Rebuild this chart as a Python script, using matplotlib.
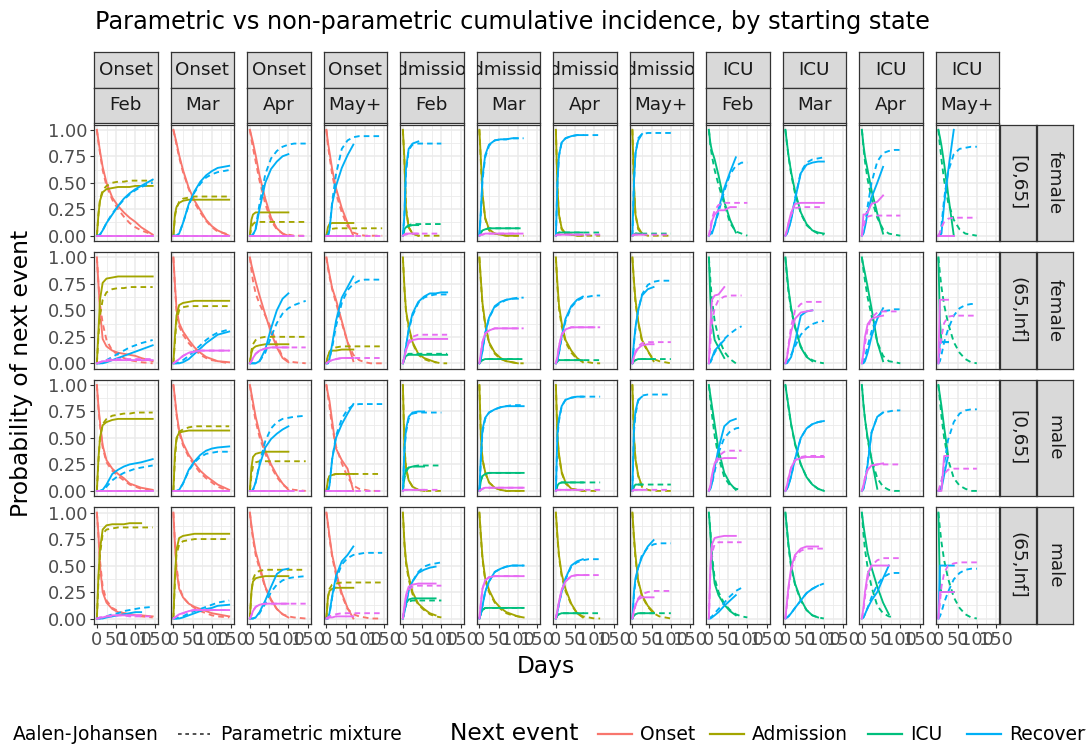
import numpy as np
import matplotlib
matplotlib.use("Agg")
import matplotlib.pyplot as plt
from matplotlib.lines import Line2D

N = None
days = [0, 4, 8, 15, 25, 40, 55, 70, 85, 100, 115, 145]
months = ["Feb", "Mar", "Apr", "May+"]
start_states = ["Onset", "Admission", "ICU"]
age_groups = ["[0,65]", "(65,Inf]", "[0,65]", "(65,Inf]"]
sexes = ["female", "female", "male", "male"]
events = ["Onset", "Admission", "ICU", "Recovery", "Death"]
event_colors = ["#F8766D", "#A3A500", "#00BF7D", "#00B0F6", "#E76BF3"]
legend_events = ["Onset", "Admission", "ICU", "Recovery"]
x_ticks = [0, 50, 100, 150]
y_ticks = [0, 0.25, 0.5, 0.75, 1.0]
y_ticklabels = ["0.00", "0.25", "0.50", "0.75", "1.00"]

# event -> (Aalen-Johansen, parametric mixture), read at `days`
Z = [0, 0, 0, 0, 0, 0, 0, 0, 0, 0, 0, 0]

onset_f_young = {
    "Feb": {"Onset": ([1.0, 0.9, 0.8, 0.65, 0.5, 0.36, 0.28, 0.22, 0.17, 0.13, 0.08, 0.01],
                      [1.0, 0.88, 0.78, 0.62, 0.47, 0.34, 0.25, 0.18, 0.12, 0.08, 0.05, 0.01]),
            "Admission": ([0, 0.2, 0.33, 0.41, 0.44, 0.45, 0.46, 0.46, 0.46, 0.47, 0.47, 0.47],
                          [0, 0.2, 0.34, 0.43, 0.47, 0.5, 0.51, 0.51, 0.52, 0.52, 0.52, 0.52]),
            "Recovery": ([0, 0, 0.01, 0.05, 0.12, 0.2, 0.28, 0.35, 0.4, 0.44, 0.47, 0.53],
                         [0, 0, 0.01, 0.05, 0.12, 0.21, 0.28, 0.34, 0.39, 0.43, 0.46, 0.5]),
            "Death": (Z, Z)},
    "Mar": {"Onset": ([1.0, 0.94, 0.88, 0.76, 0.62, 0.45, 0.33, 0.24, 0.15, 0.09, 0.05, 0.0],
                      [1.0, 0.93, 0.86, 0.74, 0.6, 0.44, 0.31, 0.22, 0.14, 0.08, 0.04, 0.01]),
            "Admission": ([0, 0.2, 0.27, 0.31, 0.33, 0.34, 0.34, 0.34, 0.34, 0.34, 0.34, 0.34],
                          [0, 0.18, 0.26, 0.32, 0.35, 0.36, 0.37, 0.37, 0.37, 0.37, 0.37, 0.37]),
            "Recovery": ([0, 0, 0, 0.02, 0.12, 0.3, 0.42, 0.51, 0.57, 0.61, 0.64, 0.66],
                         [0, 0, 0, 0.02, 0.12, 0.29, 0.41, 0.49, 0.55, 0.58, 0.6, 0.62]),
            "Death": (Z, Z)},
    "Apr": {"Onset": ([1.0, 0.94, 0.88, 0.76, 0.57, 0.35, 0.17, 0.07, 0.02, 0.0, N, N],
                      [1.0, 0.91, 0.83, 0.7, 0.52, 0.3, 0.14, 0.06, 0.02, 0.01, 0.0, 0.0]),
            "Admission": ([0, 0.15, 0.2, 0.22, 0.22, 0.22, 0.22, 0.22, 0.22, 0.22, N, N],
                          [0, 0.08, 0.11, 0.13, 0.13, 0.13, 0.13, 0.13, 0.13, 0.13, 0.13, 0.13]),
            "Recovery": ([0, 0, 0.01, 0.06, 0.25, 0.5, 0.63, 0.7, 0.75, 0.77, N, N],
                         [0, 0, 0.01, 0.07, 0.3, 0.58, 0.73, 0.8, 0.84, 0.86, 0.87, 0.87]),
            "Death": ([0, 0, 0, 0, 0, 0, 0, 0, 0, 0, N, N], Z)},
    "May+": {"Onset": ([1.0, 0.88, 0.79, 0.63, 0.45, 0.26, 0.12, 0.0, N, N, N, N],
                       [1.0, 0.85, 0.75, 0.58, 0.4, 0.22, 0.09, 0.03, 0.01, 0.0, 0.0, 0.0]),
             "Admission": ([0, 0.08, 0.11, 0.12, 0.12, 0.12, 0.12, 0.12, N, N, N, N],
                           [0, 0.04, 0.06, 0.065, 0.07, 0.07, 0.07, 0.07, 0.07, 0.07, 0.07, 0.07]),
             "Recovery": ([0, 0, 0.05, 0.3, 0.47, 0.64, 0.76, 0.86, N, N, N, N],
                          [0, 0, 0.05, 0.32, 0.58, 0.82, 0.9, 0.93, 0.94, 0.94, 0.94, 0.94]),
             "Death": ([0, 0, 0, 0, 0, 0, 0, 0, N, N, N, N], Z)},
}

onset_f_old = {
    "Feb": {"Onset": ([1.0, 0.75, 0.5, 0.23, 0.16, 0.12, 0.1, 0.09, 0.08, 0.07, 0.05, 0.02],
                      [1.0, 0.76, 0.56, 0.38, 0.22, 0.12, 0.08, 0.05, 0.03, 0.02, 0.01, 0.0]),
            "Admission": ([0, 0.3, 0.6, 0.76, 0.8, 0.81, 0.82, 0.82, 0.82, 0.82, 0.82, 0.82],
                          [0, 0.25, 0.45, 0.6, 0.67, 0.7, 0.71, 0.71, 0.72, 0.72, 0.72, 0.72]),
            "Recovery": ([0, 0, 0, 0, 0.01, 0.03, 0.05, 0.07, 0.09, 0.11, 0.13, 0.17],
                         [0, 0, 0, 0.01, 0.03, 0.06, 0.09, 0.12, 0.15, 0.17, 0.19, 0.22]),
            "Death": ([0, 0.005, 0.01, 0.02, 0.02, 0.03, 0.03, 0.03, 0.03, 0.03, 0.03, 0.03],
                      [0, 0.005, 0.01, 0.02, 0.03, 0.04, 0.04, 0.04, 0.04, 0.04, 0.04, 0.04])},
    "Mar": {"Onset": ([1.0, 0.75, 0.52, 0.38, 0.3, 0.22, 0.15, 0.1, 0.06, 0.04, 0.02, 0.01],
                      [1.0, 0.72, 0.5, 0.35, 0.27, 0.19, 0.13, 0.08, 0.05, 0.03, 0.02, 0.0]),
            "Admission": ([0, 0.25, 0.45, 0.55, 0.57, 0.58, 0.59, 0.59, 0.59, 0.59, 0.59, 0.59],
                          [0, 0.2, 0.4, 0.5, 0.53, 0.54, 0.54, 0.54, 0.54, 0.54, 0.54, 0.54]),
            "Recovery": ([0, 0, 0, 0, 0.01, 0.04, 0.09, 0.14, 0.19, 0.23, 0.27, 0.3],
                         [0, 0, 0, 0.01, 0.03, 0.07, 0.12, 0.17, 0.22, 0.26, 0.29, 0.32]),
            "Death": ([0, 0.01, 0.02, 0.04, 0.07, 0.1, 0.11, 0.12, 0.12, 0.12, 0.12, 0.12],
                      [0, 0.01, 0.02, 0.04, 0.07, 0.1, 0.11, 0.12, 0.12, 0.12, 0.12, 0.12])},
    "Apr": {"Onset": ([1.0, 0.93, 0.87, 0.77, 0.64, 0.46, 0.29, 0.15, 0.05, 0.01, N, N],
                      [1.0, 0.88, 0.78, 0.66, 0.56, 0.45, 0.33, 0.18, 0.06, 0.02, 0.01, 0.0]),
            "Admission": ([0, 0.1, 0.14, 0.16, 0.17, 0.18, 0.18, 0.18, 0.18, 0.18, N, N],
                          [0, 0.12, 0.18, 0.22, 0.24, 0.25, 0.25, 0.25, 0.25, 0.25, 0.25, 0.25]),
            "Recovery": ([0, 0, 0, 0, 0.02, 0.13, 0.33, 0.5, 0.61, 0.66, N, N],
                         [0, 0, 0, 0, 0.02, 0.1, 0.25, 0.38, 0.47, 0.52, 0.55, 0.59]),
            "Death": ([0, 0.02, 0.05, 0.09, 0.12, 0.14, 0.15, 0.15, 0.15, 0.15, N, N],
                      [0, 0.02, 0.05, 0.09, 0.12, 0.14, 0.15, 0.15, 0.15, 0.15, 0.15, 0.15])},
    "May+": {"Onset": ([1.0, 0.92, 0.84, 0.71, 0.6, 0.4, 0.2, 0.02, N, N, N, N],
                       [1.0, 0.9, 0.82, 0.7, 0.57, 0.38, 0.2, 0.08, 0.03, 0.01, 0.0, 0.0]),
             "Admission": ([0, 0.07, 0.1, 0.12, 0.12, 0.13, 0.13, 0.13, N, N, N, N],
                           [0, 0.07, 0.11, 0.14, 0.15, 0.16, 0.16, 0.16, 0.16, 0.16, 0.16, 0.16]),
             "Recovery": ([0, 0, 0.04, 0.18, 0.4, 0.62, 0.72, 0.82, N, N, N, N],
                          [0, 0, 0.04, 0.15, 0.35, 0.57, 0.69, 0.75, 0.78, 0.79, 0.79, 0.79]),
             "Death": ([0, 0.01, 0.02, 0.03, 0.04, 0.05, 0.05, 0.05, N, N, N, N],
                       [0, 0.01, 0.02, 0.03, 0.04, 0.05, 0.05, 0.05, 0.05, 0.05, 0.05, 0.05])},
}

onset_m_young = {
    "Feb": {"Onset": ([1.0, 0.8, 0.65, 0.43, 0.29, 0.21, 0.16, 0.12, 0.07, 0.05, 0.03, 0.01],
                      [1.0, 0.78, 0.62, 0.41, 0.27, 0.19, 0.14, 0.1, 0.06, 0.04, 0.02, 0.0]),
            "Admission": ([0, 0.3, 0.5, 0.62, 0.65, 0.67, 0.68, 0.68, 0.68, 0.68, 0.68, 0.68],
                          [0, 0.28, 0.5, 0.63, 0.68, 0.71, 0.72, 0.73, 0.73, 0.74, 0.74, 0.74]),
            "Recovery": ([0, 0, 0, 0.01, 0.06, 0.16, 0.2, 0.23, 0.25, 0.26, 0.27, 0.3],
                         [0, 0, 0, 0.01, 0.04, 0.1, 0.14, 0.17, 0.19, 0.21, 0.22, 0.24]),
            "Death": (Z, Z)},
    "Mar": {"Onset": ([1.0, 0.88, 0.74, 0.57, 0.45, 0.34, 0.26, 0.19, 0.14, 0.1, 0.06, 0.01],
                      [1.0, 0.86, 0.72, 0.55, 0.43, 0.32, 0.24, 0.17, 0.12, 0.08, 0.04, 0.0]),
            "Admission": ([0, 0.35, 0.5, 0.55, 0.56, 0.57, 0.57, 0.57, 0.57, 0.57, 0.57, 0.57],
                          [0, 0.3, 0.48, 0.56, 0.58, 0.6, 0.61, 0.61, 0.61, 0.61, 0.61, 0.61]),
            "Recovery": ([0, 0, 0, 0.01, 0.07, 0.2, 0.28, 0.34, 0.38, 0.4, 0.41, 0.42],
                         [0, 0, 0, 0.01, 0.07, 0.19, 0.27, 0.32, 0.35, 0.36, 0.37, 0.37]),
            "Death": (Z, Z)},
    "Apr": {"Onset": ([1.0, 0.92, 0.84, 0.7, 0.55, 0.38, 0.25, 0.15, 0.07, 0.01, N, N],
                      [1.0, 0.9, 0.8, 0.66, 0.51, 0.35, 0.23, 0.13, 0.06, 0.02, 0.01, 0.0]),
            "Admission": ([0, 0.22, 0.32, 0.35, 0.36, 0.37, 0.37, 0.37, 0.37, 0.37, N, N],
                          [0, 0.15, 0.23, 0.27, 0.28, 0.28, 0.28, 0.28, 0.28, 0.28, 0.28, 0.28]),
            "Recovery": ([0, 0, 0.01, 0.08, 0.24, 0.41, 0.49, 0.54, 0.58, 0.61, N, N],
                         [0, 0, 0.01, 0.08, 0.26, 0.47, 0.59, 0.65, 0.68, 0.69, 0.7, 0.71]),
            "Death": ([0, 0, 0, 0, 0, 0, 0, 0, 0, 0, N, N], Z)},
    "May+": {"Onset": ([1.0, 0.92, 0.85, 0.66, 0.4, 0.29, 0.21, 0.0, N, N, N, N],
                       [1.0, 0.9, 0.8, 0.6, 0.42, 0.26, 0.13, 0.05, 0.02, 0.01, 0.0, 0.0]),
             "Admission": ([0, 0.1, 0.14, 0.15, 0.16, 0.16, 0.16, 0.16, N, N, N, N],
                           [0, 0.1, 0.14, 0.15, 0.16, 0.16, 0.16, 0.16, 0.16, 0.16, 0.16, 0.16]),
             "Recovery": ([0, 0, 0.05, 0.3, 0.5, 0.63, 0.73, 0.82, N, N, N, N],
                          [0, 0, 0.05, 0.3, 0.52, 0.68, 0.77, 0.81, 0.82, 0.82, 0.82, 0.82]),
             "Death": ([0, 0, 0, 0, 0, 0, 0, 0, N, N, N, N], Z)},
}

onset_m_old = {
    "Feb": {"Onset": ([1.0, 0.8, 0.5, 0.25, 0.15, 0.09, 0.06, 0.05, 0.04, 0.03, 0.03, 0.02],
                      [1.0, 0.78, 0.55, 0.3, 0.17, 0.1, 0.07, 0.05, 0.04, 0.03, 0.02, 0.01]),
            "Admission": ([0, 0.4, 0.65, 0.84, 0.88, 0.89, 0.89, 0.89, 0.9, 0.9, 0.9, N],
                          [0, 0.35, 0.6, 0.8, 0.84, 0.85, 0.86, 0.86, 0.86, 0.86, 0.86, 0.86]),
            "Recovery": ([0, 0, 0, 0, 0.01, 0.02, 0.03, 0.04, 0.05, 0.06, 0.06, N],
                         [0, 0, 0, 0.01, 0.02, 0.04, 0.05, 0.07, 0.08, 0.09, 0.1, 0.11]),
            "Death": ([0, 0, 0.01, 0.01, 0.02, 0.03, 0.03, 0.03, 0.03, 0.03, 0.03, N],
                      [0, 0, 0.01, 0.01, 0.02, 0.02, 0.03, 0.03, 0.02, 0.02, 0.02, 0.02])},
    "Mar": {"Onset": ([1.0, 0.7, 0.46, 0.28, 0.2, 0.14, 0.11, 0.09, 0.07, 0.05, 0.04, 0.02],
                      [1.0, 0.72, 0.5, 0.3, 0.2, 0.14, 0.1, 0.07, 0.05, 0.03, 0.02, 0.01]),
            "Admission": ([0, 0.4, 0.65, 0.76, 0.78, 0.79, 0.8, 0.8, 0.8, 0.8, 0.8, 0.8],
                          [0, 0.35, 0.6, 0.7, 0.73, 0.74, 0.75, 0.75, 0.75, 0.75, 0.75, 0.75]),
            "Recovery": ([0, 0, 0, 0, 0.01, 0.03, 0.05, 0.07, 0.09, 0.1, 0.12, 0.13],
                         [0, 0, 0, 0.01, 0.02, 0.05, 0.07, 0.09, 0.11, 0.13, 0.15, 0.17]),
            "Death": ([0, 0.01, 0.02, 0.04, 0.05, 0.07, 0.08, 0.08, 0.08, 0.08, 0.08, 0.08],
                      [0, 0.01, 0.02, 0.04, 0.05, 0.07, 0.08, 0.08, 0.08, 0.08, 0.08, 0.08])},
    "Apr": {"Onset": ([1.0, 0.88, 0.78, 0.63, 0.5, 0.3, 0.18, 0.09, 0.04, 0.01, N, N],
                      [1.0, 0.86, 0.75, 0.6, 0.47, 0.29, 0.17, 0.09, 0.04, 0.02, 0.01, 0.0]),
            "Admission": ([0, 0.25, 0.35, 0.38, 0.39, 0.4, 0.4, 0.4, 0.4, 0.4, N, N],
                          [0, 0.25, 0.37, 0.43, 0.45, 0.46, 0.46, 0.46, 0.46, 0.46, 0.46, 0.46]),
            "Recovery": ([0, 0, 0, 0.01, 0.06, 0.17, 0.3, 0.42, 0.46, 0.47, N, N],
                         [0, 0, 0, 0.01, 0.05, 0.14, 0.25, 0.32, 0.36, 0.38, 0.39, 0.4]),
            "Death": ([0, 0.03, 0.07, 0.11, 0.13, 0.14, 0.14, 0.14, 0.14, 0.14, N, N],
                      [0, 0.03, 0.07, 0.11, 0.13, 0.14, 0.14, 0.14, 0.14, 0.14, 0.14, 0.14])},
    "May+": {"Onset": ([1.0, 0.9, 0.78, 0.6, 0.44, 0.24, 0.1, 0.0, N, N, N, N],
                       [1.0, 0.88, 0.76, 0.58, 0.41, 0.22, 0.09, 0.04, 0.02, 0.01, 0.0, 0.0]),
             "Admission": ([0, 0.2, 0.26, 0.28, 0.29, 0.29, 0.29, 0.29, N, N, N, N],
                           [0, 0.2, 0.28, 0.32, 0.33, 0.34, 0.34, 0.34, 0.34, 0.34, 0.34, 0.34]),
             "Recovery": ([0, 0, 0.05, 0.21, 0.4, 0.54, 0.6, 0.68, N, N, N, N],
                          [0, 0, 0.04, 0.2, 0.37, 0.51, 0.57, 0.6, 0.61, 0.62, 0.62, 0.62]),
             "Death": ([0, 0, 0.01, 0.01, 0.02, 0.02, 0.02, 0.02, N, N, N, N],
                       [0, 0.01, 0.02, 0.03, 0.04, 0.05, 0.05, 0.05, 0.05, 0.05, 0.05, 0.05])},
}

adm_f_young = {
    "Feb": {"Admission": ([1.0, 0.72, 0.25, 0.08, 0.02, 0.0, N, N, N, N, N, N],
                          [1.0, 0.7, 0.27, 0.08, 0.02, 0.0, 0.0, 0.0, 0.0, 0.0, N, N]),
            "ICU": ([0, 0.06, 0.08, 0.09, 0.1, 0.1, N, N, N, N, N, N],
                    [0, 0.05, 0.08, 0.1, 0.11, 0.11, 0.11, 0.11, 0.11, 0.11, N, N]),
            "Recovery": ([0, 0.2, 0.63, 0.82, 0.87, 0.89, N, N, N, N, N, N],
                         [0, 0.2, 0.6, 0.81, 0.86, 0.87, 0.87, 0.87, 0.87, 0.87, N, N]),
            "Death": ([0, 0.01, 0.02, 0.02, 0.02, 0.02, N, N, N, N, N, N],
                      [0, 0.01, 0.01, 0.02, 0.02, 0.02, 0.02, 0.02, 0.02, 0.02, N, N])},
    "Mar": {"Admission": ([1.0, 0.71, 0.4, 0.17, 0.06, 0.02, 0.01, 0.0, 0.0, 0.0, N, N],
                          [1.0, 0.68, 0.38, 0.16, 0.05, 0.02, 0.01, 0.0, 0.0, 0.0, 0.0, N]),
            "ICU": ([0, 0.03, 0.05, 0.06, 0.07, 0.07, 0.07, 0.07, 0.07, 0.07, N, N],
                    [0, 0.03, 0.05, 0.06, 0.07, 0.07, 0.07, 0.07, 0.07, 0.07, 0.07, N]),
            "Recovery": ([0, 0.25, 0.55, 0.76, 0.86, 0.9, 0.91, 0.91, 0.92, 0.92, N, N],
                         [0, 0.22, 0.52, 0.74, 0.85, 0.9, 0.91, 0.91, 0.92, 0.92, 0.92, N]),
            "Death": ([0, 0.01, 0.01, 0.02, 0.02, 0.02, 0.02, 0.02, 0.02, 0.02, N, N],
                      [0, 0.01, 0.01, 0.02, 0.02, 0.02, 0.02, 0.02, 0.02, 0.02, 0.02, N])},
    "Apr": {"Admission": ([1.0, 0.45, 0.2, 0.07, 0.02, 0.01, 0.0, 0.0, N, N, N, N],
                          [1.0, 0.45, 0.2, 0.06, 0.02, 0.01, 0.0, 0.0, 0.0, 0.0, 0.0, N]),
            "ICU": ([0, 0.02, 0.03, 0.03, 0.03, 0.03, 0.03, 0.03, N, N, N, N],
                    [0, 0.02, 0.03, 0.03, 0.03, 0.03, 0.03, 0.03, 0.03, 0.03, 0.03, N]),
            "Recovery": ([0, 0.5, 0.76, 0.88, 0.92, 0.94, 0.95, 0.95, N, N, N, N],
                         [0, 0.5, 0.75, 0.88, 0.92, 0.94, 0.95, 0.95, 0.95, 0.95, 0.95, N]),
            "Death": ([0, 0.01, 0.01, 0.01, 0.01, 0.01, 0.01, 0.01, N, N, N, N],
                      [0, 0.01, 0.01, 0.01, 0.01, 0.01, 0.01, 0.01, 0.01, 0.01, 0.01, N])},
    "May+": {"Admission": ([1.0, 0.5, 0.2, 0.08, 0.02, N, N, N, N, N, N, N],
                           [1.0, 0.45, 0.2, 0.06, 0.02, 0.0, 0.0, 0.0, 0.0, 0.0, N, N]),
             "ICU": ([0, 0.01, 0.02, 0.02, 0.02, N, N, N, N, N, N, N],
                     [0, 0.01, 0.02, 0.02, 0.02, 0.02, 0.02, 0.02, 0.02, 0.02, N, N]),
             "Recovery": ([0, 0.5, 0.78, 0.9, 0.96, N, N, N, N, N, N, N],
                          [0, 0.5, 0.77, 0.92, 0.96, 0.97, 0.97, 0.97, 0.97, 0.97, N, N]),
             "Death": ([0, 0.01, 0.01, 0.01, 0.01, N, N, N, N, N, N, N],
                       [0, 0.01, 0.01, 0.01, 0.01, 0.01, 0.01, 0.01, 0.01, 0.01, N, N])},
}

adm_f_old = {
    "Feb": {"Admission": ([1.0, 0.72, 0.5, 0.35, 0.2, 0.09, 0.05, 0.03, 0.01, N, N, N],
                          [1.0, 0.7, 0.49, 0.33, 0.19, 0.08, 0.04, 0.02, 0.01, 0.0, 0.0, N]),
            "ICU": ([0, 0.04, 0.07, 0.08, 0.08, 0.08, 0.08, 0.08, 0.08, 0.08, 0.08, N],
                    [0, 0.04, 0.07, 0.09, 0.09, 0.09, 0.09, 0.09, 0.09, 0.09, 0.09, N]),
            "Recovery": ([0, 0.06, 0.16, 0.32, 0.47, 0.58, 0.63, 0.66, 0.66, 0.67, 0.67, N],
                         [0, 0.06, 0.15, 0.31, 0.45, 0.57, 0.62, 0.64, 0.65, 0.65, 0.65, N]),
            "Death": ([0, 0.06, 0.12, 0.19, 0.22, 0.23, 0.23, 0.23, 0.23, 0.23, 0.23, N],
                      [0, 0.06, 0.13, 0.21, 0.25, 0.27, 0.27, 0.27, 0.27, 0.27, 0.27, N])},
    "Mar": {"Admission": ([1.0, 0.78, 0.57, 0.38, 0.2, 0.1, 0.05, 0.02, 0.01, 0.0, N, N],
                          [1.0, 0.76, 0.55, 0.36, 0.19, 0.09, 0.04, 0.02, 0.01, 0.0, 0.0, N]),
            "ICU": ([0, 0.02, 0.03, 0.04, 0.04, 0.04, 0.04, 0.04, 0.04, 0.04, N, N],
                    [0, 0.02, 0.03, 0.04, 0.04, 0.04, 0.04, 0.04, 0.04, 0.04, 0.04, N]),
            "Recovery": ([0, 0.04, 0.12, 0.28, 0.43, 0.54, 0.58, 0.6, 0.61, 0.61, N, N],
                         [0, 0.04, 0.12, 0.28, 0.43, 0.53, 0.57, 0.6, 0.61, 0.62, 0.62, N]),
            "Death": ([0, 0.1, 0.2, 0.28, 0.31, 0.33, 0.33, 0.33, 0.33, 0.33, N, N],
                      [0, 0.1, 0.2, 0.28, 0.31, 0.33, 0.33, 0.33, 0.33, 0.33, 0.33, N])},
    "Apr": {"Admission": ([1.0, 0.75, 0.55, 0.38, 0.22, 0.12, 0.05, 0.01, N, N, N, N],
                          [1.0, 0.72, 0.52, 0.35, 0.2, 0.1, 0.04, 0.02, 0.01, 0.0, 0.0, N]),
            "ICU": ([0, 0.02, 0.03, 0.03, 0.03, 0.03, 0.03, 0.03, N, N, N, N],
                    [0, 0.02, 0.03, 0.03, 0.03, 0.03, 0.03, 0.03, 0.03, 0.03, 0.03, N]),
            "Recovery": ([0, 0.03, 0.1, 0.25, 0.42, 0.54, 0.6, 0.63, N, N, N, N],
                         [0, 0.03, 0.1, 0.24, 0.4, 0.53, 0.59, 0.62, 0.63, 0.64, 0.64, N]),
            "Death": ([0, 0.06, 0.16, 0.27, 0.32, 0.34, 0.34, 0.34, 0.34, 0.34, N, N],
                      [0, 0.06, 0.16, 0.27, 0.32, 0.34, 0.34, 0.34, 0.34, 0.34, 0.34, N])},
    "May+": {"Admission": ([1.0, 0.78, 0.6, 0.4, 0.22, 0.12, 0.02, N, N, N, N, N],
                           [1.0, 0.76, 0.58, 0.38, 0.21, 0.11, 0.04, 0.02, 0.01, 0.0, N, N]),
             "ICU": ([0, 0.02, 0.03, 0.04, 0.04, 0.04, 0.04, N, N, N, N, N],
                     [0, 0.02, 0.03, 0.04, 0.04, 0.04, 0.04, 0.04, 0.04, 0.04, N, N]),
             "Recovery": ([0, 0.2, 0.34, 0.5, 0.64, 0.7, 0.72, N, N, N, N, N],
                          [0, 0.18, 0.32, 0.5, 0.65, 0.74, 0.77, 0.78, 0.78, 0.78, N, N]),
             "Death": ([0, 0.06, 0.1, 0.14, 0.17, 0.18, 0.18, N, N, N, N, N],
                       [0, 0.06, 0.11, 0.16, 0.19, 0.2, 0.2, 0.2, 0.2, 0.2, N, N])},
}

adm_m_young = {
    "Feb": {"Admission": ([1.0, 0.4, 0.22, 0.1, 0.04, 0.01, 0.0, N, N, N, N, N],
                          [1.0, 0.42, 0.22, 0.1, 0.04, 0.01, 0.0, 0.0, 0.0, 0.0, N, N]),
            "ICU": ([0, 0.14, 0.2, 0.22, 0.23, 0.23, 0.23, N, N, N, N, N],
                    [0, 0.12, 0.18, 0.22, 0.23, 0.24, 0.24, 0.24, 0.24, 0.24, N, N]),
            "Recovery": ([0, 0.4, 0.58, 0.7, 0.74, 0.75, 0.75, N, N, N, N, N],
                         [0, 0.38, 0.55, 0.68, 0.73, 0.74, 0.74, 0.74, 0.74, 0.74, N, N]),
            "Death": ([0, 0.01, 0.01, 0.01, 0.01, 0.01, 0.01, N, N, N, N, N],
                      [0, 0.01, 0.01, 0.01, 0.01, 0.01, 0.01, 0.01, 0.01, 0.01, N, N])},
    "Mar": {"Admission": ([1.0, 0.5, 0.3, 0.18, 0.08, 0.03, 0.01, 0.0, 0.0, 0.0, 0.0, N],
                          [1.0, 0.5, 0.3, 0.17, 0.08, 0.03, 0.01, 0.0, 0.0, 0.0, 0.0, N]),
            "ICU": ([0, 0.1, 0.14, 0.16, 0.17, 0.17, 0.17, 0.17, 0.17, 0.17, 0.17, N],
                    [0, 0.1, 0.14, 0.16, 0.17, 0.17, 0.17, 0.17, 0.17, 0.17, 0.17, N]),
            "Recovery": ([0, 0.33, 0.58, 0.69, 0.74, 0.77, 0.79, 0.8, 0.8, 0.8, 0.8, N],
                         [0, 0.3, 0.55, 0.68, 0.74, 0.77, 0.79, 0.8, 0.81, 0.81, 0.81, N]),
            "Death": ([0, 0.01, 0.02, 0.03, 0.03, 0.03, 0.03, 0.03, 0.03, 0.03, 0.03, N],
                      [0, 0.01, 0.02, 0.03, 0.03, 0.03, 0.03, 0.03, 0.03, 0.03, 0.03, N])},
    "Apr": {"Admission": ([1.0, 0.52, 0.35, 0.18, 0.08, 0.02, 0.01, 0.0, N, N, N, N],
                          [1.0, 0.5, 0.33, 0.17, 0.07, 0.02, 0.01, 0.0, 0.0, 0.0, 0.0, N]),
            "ICU": ([0, 0.05, 0.07, 0.08, 0.08, 0.08, 0.08, 0.08, N, N, N, N],
                    [0, 0.05, 0.07, 0.08, 0.08, 0.08, 0.08, 0.08, 0.08, 0.08, 0.08, N]),
            "Recovery": ([0, 0.55, 0.68, 0.8, 0.86, 0.88, 0.89, 0.89, N, N, N, N],
                         [0, 0.5, 0.66, 0.8, 0.86, 0.88, 0.89, 0.89, 0.89, 0.89, 0.89, N]),
            "Death": ([0, 0.01, 0.01, 0.01, 0.01, 0.01, 0.01, 0.01, N, N, N, N],
                      [0, 0.01, 0.01, 0.01, 0.01, 0.01, 0.01, 0.01, 0.01, 0.01, 0.01, N])},
    "May+": {"Admission": ([1.0, 0.52, 0.3, 0.15, 0.04, N, N, N, N, N, N, N],
                           [1.0, 0.5, 0.3, 0.14, 0.04, 0.01, 0.0, 0.0, 0.0, 0.0, N, N]),
             "ICU": ([0, 0.04, 0.06, 0.06, 0.06, N, N, N, N, N, N, N],
                     [0, 0.04, 0.06, 0.06, 0.06, 0.06, 0.06, 0.06, 0.06, 0.06, N, N]),
             "Recovery": ([0, 0.6, 0.75, 0.86, 0.89, N, N, N, N, N, N, N],
                          [0, 0.55, 0.72, 0.85, 0.9, 0.91, 0.91, 0.91, 0.91, 0.91, N, N]),
             "Death": ([0, 0.01, 0.01, 0.01, 0.01, N, N, N, N, N, N, N],
                       [0, 0.01, 0.01, 0.01, 0.01, 0.01, 0.01, 0.01, 0.01, 0.01, N, N])},
}

adm_m_old = {
    "Feb": {"Admission": ([1.0, 0.72, 0.55, 0.4, 0.25, 0.14, 0.09, 0.05, 0.03, N, N, N],
                          [1.0, 0.7, 0.52, 0.37, 0.23, 0.13, 0.08, 0.04, 0.02, 0.01, N, N]),
            "ICU": ([0, 0.08, 0.14, 0.18, 0.19, 0.19, 0.19, 0.19, 0.19, N, N, N],
                    [0, 0.08, 0.13, 0.16, 0.17, 0.17, 0.17, 0.17, 0.17, 0.17, N, N]),
            "Recovery": ([0, 0.06, 0.14, 0.26, 0.35, 0.43, 0.46, 0.48, 0.49, N, N, N],
                         [0, 0.06, 0.14, 0.26, 0.35, 0.44, 0.49, 0.51, 0.52, 0.53, N, N]),
            "Death": ([0, 0.12, 0.22, 0.3, 0.32, 0.33, 0.33, 0.33, 0.33, N, N, N],
                      [0, 0.1, 0.2, 0.27, 0.3, 0.31, 0.31, 0.31, 0.31, 0.31, N, N])},
    "Mar": {"Admission": ([1.0, 0.78, 0.58, 0.38, 0.27, 0.16, 0.1, 0.06, 0.04, 0.02, 0.01, N],
                          [1.0, 0.76, 0.56, 0.36, 0.25, 0.15, 0.09, 0.05, 0.03, 0.02, 0.01, N]),
            "ICU": ([0, 0.05, 0.08, 0.1, 0.1, 0.1, 0.1, 0.1, 0.1, 0.1, 0.1, N],
                    [0, 0.05, 0.08, 0.1, 0.1, 0.1, 0.1, 0.1, 0.1, 0.1, 0.1, N]),
            "Recovery": ([0, 0.05, 0.12, 0.25, 0.35, 0.44, 0.47, 0.49, 0.5, 0.5, 0.5, N],
                         [0, 0.05, 0.12, 0.25, 0.35, 0.44, 0.47, 0.49, 0.5, 0.5, 0.5, N]),
            "Death": ([0, 0.15, 0.28, 0.36, 0.39, 0.4, 0.4, 0.4, 0.4, 0.4, 0.4, N],
                      [0, 0.15, 0.28, 0.36, 0.39, 0.4, 0.4, 0.4, 0.4, 0.4, 0.4, N])},
    "Apr": {"Admission": ([1.0, 0.78, 0.6, 0.42, 0.28, 0.14, 0.05, 0.01, N, N, N, N],
                          [1.0, 0.76, 0.58, 0.4, 0.26, 0.13, 0.05, 0.02, 0.01, 0.0, 0.0, N]),
            "ICU": ([0, 0.03, 0.04, 0.05, 0.05, 0.05, 0.05, 0.05, N, N, N, N],
                    [0, 0.03, 0.04, 0.05, 0.05, 0.05, 0.05, 0.05, 0.05, 0.05, 0.05, N]),
            "Recovery": ([0, 0.06, 0.14, 0.25, 0.38, 0.5, 0.54, 0.56, N, N, N, N],
                         [0, 0.06, 0.14, 0.25, 0.37, 0.49, 0.53, 0.55, 0.56, 0.56, 0.56, N]),
            "Death": ([0, 0.08, 0.16, 0.27, 0.35, 0.4, 0.41, 0.41, 0.41, N, N, N],
                      [0, 0.07, 0.15, 0.27, 0.35, 0.4, 0.41, 0.41, 0.41, 0.41, 0.41, N])},
    "May+": {"Admission": ([1.0, 0.78, 0.6, 0.36, 0.22, 0.12, 0.06, N, N, N, N, N],
                           [1.0, 0.75, 0.57, 0.35, 0.21, 0.11, 0.05, 0.02, 0.01, 0.0, N, N]),
             "ICU": ([0, 0.03, 0.04, 0.05, 0.05, 0.05, 0.05, N, N, N, N, N],
                     [0, 0.03, 0.04, 0.05, 0.05, 0.05, 0.05, 0.05, 0.05, 0.05, N, N]),
             "Recovery": ([0, 0.25, 0.38, 0.48, 0.58, 0.68, 0.74, N, N, N, N, N],
                          [0, 0.22, 0.35, 0.48, 0.6, 0.67, 0.7, 0.71, 0.71, 0.71, N, N]),
             "Death": ([0, 0.08, 0.13, 0.18, 0.2, 0.2, 0.2, N, N, N, N, N],
                       [0, 0.06, 0.12, 0.19, 0.23, 0.25, 0.26, 0.26, 0.26, 0.26, N, N])},
}

icu_f_young = {
    "Feb": {"ICU": ([1.0, 0.87, 0.8, 0.72, 0.57, 0.32, 0.15, 0.03, N, N, N, N],
                    [1.0, 0.85, 0.75, 0.62, 0.48, 0.3, 0.12, 0.04, 0.02, 0.0, N, N]),
            "Recovery": ([0, 0.02, 0.02, 0.1, 0.25, 0.45, 0.6, 0.74, N, N, N, N],
                         [0, 0.02, 0.04, 0.1, 0.22, 0.42, 0.58, 0.66, 0.69, 0.69, N, N]),
            "Death": ([0, 0.05, 0.14, 0.2, 0.24, 0.24, 0.27, 0.27, N, N, N, N],
                      [0, 0.08, 0.16, 0.24, 0.29, 0.31, 0.31, 0.31, 0.31, 0.31, N, N])},
    "Mar": {"ICU": ([1.0, 0.88, 0.76, 0.6, 0.42, 0.22, 0.11, 0.05, 0.03, 0.02, N, N],
                    [1.0, 0.87, 0.75, 0.58, 0.4, 0.21, 0.1, 0.05, 0.02, 0.01, N, N]),
            "Recovery": ([0, 0.02, 0.06, 0.15, 0.34, 0.59, 0.67, 0.69, 0.7, 0.7, N, N],
                         [0, 0.02, 0.06, 0.16, 0.35, 0.6, 0.69, 0.72, 0.73, 0.74, N, N]),
            "Death": ([0, 0.05, 0.12, 0.22, 0.3, 0.31, 0.31, 0.31, 0.31, 0.31, N, N],
                      [0, 0.05, 0.11, 0.2, 0.26, 0.27, 0.27, 0.27, 0.27, 0.27, N, N])},
    "Apr": {"ICU": ([1.0, 0.86, 0.75, 0.62, 0.43, 0.21, 0.02, N, N, N, N, N],
                    [1.0, 0.84, 0.7, 0.53, 0.35, 0.17, 0.06, 0.02, 0.01, 0.0, N, N]),
            "Recovery": ([0, 0.02, 0.08, 0.22, 0.36, 0.5, 0.65, N, N, N, N, N],
                         [0, 0.03, 0.1, 0.28, 0.5, 0.7, 0.78, 0.8, 0.81, 0.81, N, N]),
            "Death": ([0, 0.2, 0.2, 0.22, 0.3, 0.32, 0.38, N, N, N, N, N],
                      [0, 0.08, 0.14, 0.18, 0.19, 0.19, 0.19, 0.19, 0.19, 0.19, N, N])},
    "May+": {"ICU": ([1.0, 0.93, 0.85, 0.68, 0.4, 0.0, N, N, N, N, N, N],
                     [1.0, 0.85, 0.72, 0.52, 0.32, 0.15, 0.06, 0.02, 0.01, 0.0, N, N]),
             "Recovery": ([0, 0, 0.02, 0.3, 0.6, 1.0, N, N, N, N, N, N],
                          [0, 0.02, 0.1, 0.35, 0.6, 0.77, 0.82, 0.83, 0.84, 0.84, N, N]),
             "Death": ([0, 0, 0, 0, 0, 0, N, N, N, N, N, N],
                       [0, 0.03, 0.08, 0.13, 0.16, 0.17, 0.17, 0.17, 0.17, 0.17, N, N])},
}

icu_f_old = {
    "Feb": {"ICU": ([1.0, 0.6, 0.38, 0.22, 0.15, 0.05, N, N, N, N, N, N],
                    [1.0, 0.78, 0.6, 0.4, 0.24, 0.11, 0.04, 0.0, N, N, N, N]),
            "Recovery": ([0, 0.02, 0.05, 0.12, 0.16, 0.22, N, N, N, N, N, N],
                         [0, 0.01, 0.04, 0.1, 0.16, 0.23, 0.28, 0.32, 0.35, N, N, N]),
            "Death": ([0, 0.35, 0.6, 0.64, 0.65, 0.72, N, N, N, N, N, N],
                      [0, 0.2, 0.38, 0.52, 0.6, 0.63, 0.64, 0.64, 0.64, N, N, N])},
    "Mar": {"ICU": ([1.0, 0.85, 0.7, 0.52, 0.35, 0.15, 0.06, 0.02, N, N, N, N],
                    [1.0, 0.82, 0.68, 0.5, 0.34, 0.16, 0.07, 0.03, 0.01, 0.0, N, N]),
            "Recovery": ([0, 0.0, 0.02, 0.06, 0.2, 0.45, 0.49, 0.5, N, N, N, N],
                         [0, 0.01, 0.03, 0.08, 0.16, 0.27, 0.33, 0.37, 0.39, 0.4, N, N]),
            "Death": ([0, 0.05, 0.15, 0.3, 0.42, 0.48, 0.49, 0.5, N, N, N, N],
                      [0, 0.05, 0.17, 0.35, 0.5, 0.56, 0.58, 0.58, 0.58, 0.58, N, N])},
    "Apr": {"ICU": ([1.0, 0.92, 0.85, 0.72, 0.52, 0.2, 0.02, N, N, N, N, N],
                    [1.0, 0.88, 0.78, 0.62, 0.45, 0.2, 0.07, 0.02, 0.01, 0.0, N, N]),
            "Recovery": ([0, 0, 0.02, 0.1, 0.25, 0.42, 0.52, N, N, N, N, N],
                         [0, 0.02, 0.06, 0.16, 0.3, 0.44, 0.49, 0.5, 0.51, 0.51, N, N]),
            "Death": ([0, 0.1, 0.25, 0.37, 0.42, 0.44, 0.45, N, N, N, N, N],
                      [0, 0.08, 0.18, 0.33, 0.43, 0.48, 0.49, 0.49, 0.49, 0.49, N, N])},
    "May+": {"ICU": ([1.0, 0.4, 0.2, 0.2, 0.2, N, N, N, N, N, N, N],
                     [1.0, 0.85, 0.72, 0.55, 0.38, 0.2, 0.1, 0.04, 0.01, 0.0, N, N]),
             "Recovery": ([0, 0.2, 0.2, 0.2, 0.2, N, N, N, N, N, N, N],
                          [0, 0.02, 0.08, 0.2, 0.32, 0.45, 0.52, 0.55, 0.56, 0.56, N, N]),
             "Death": ([0, 0.6, 0.6, 0.6, 0.6, N, N, N, N, N, N, N],
                       [0, 0.12, 0.25, 0.38, 0.44, 0.45, 0.45, 0.45, 0.45, 0.45, N, N])},
}

icu_m_young = {
    "Feb": {"ICU": ([1.0, 0.9, 0.8, 0.63, 0.39, 0.17, 0.07, 0.01, N, N, N, N],
                    [1.0, 0.85, 0.72, 0.52, 0.32, 0.13, 0.05, 0.02, 0.01, N, N, N]),
            "Recovery": ([0, 0.02, 0.07, 0.22, 0.4, 0.61, 0.66, 0.68, N, N, N, N],
                         [0, 0.03, 0.07, 0.18, 0.36, 0.5, 0.56, 0.59, 0.6, N, N, N]),
            "Death": ([0, 0.05, 0.15, 0.26, 0.3, 0.31, 0.31, 0.31, N, N, N, N],
                      [0, 0.05, 0.14, 0.26, 0.33, 0.37, 0.38, 0.38, 0.38, N, N, N])},
    "Mar": {"ICU": ([1.0, 0.9, 0.8, 0.63, 0.45, 0.25, 0.13, 0.06, 0.02, 0.0, N, N],
                    [1.0, 0.9, 0.79, 0.62, 0.44, 0.25, 0.13, 0.06, 0.02, 0.01, N, N]),
            "Recovery": ([0, 0.02, 0.05, 0.14, 0.3, 0.5, 0.59, 0.63, 0.65, 0.66, N, N],
                         [0, 0.02, 0.05, 0.14, 0.3, 0.5, 0.59, 0.63, 0.65, 0.66, N, N]),
            "Death": ([0, 0.05, 0.12, 0.22, 0.29, 0.31, 0.32, 0.32, 0.32, 0.32, N, N],
                      [0, 0.05, 0.12, 0.22, 0.29, 0.32, 0.33, 0.33, 0.33, 0.33, N, N])},
    "Apr": {"ICU": ([1.0, 0.82, 0.68, 0.5, 0.3, 0.02, N, N, N, N, N, N],
                    [1.0, 0.82, 0.68, 0.48, 0.3, 0.12, 0.04, 0.01, 0.0, 0.0, N, N]),
            "Recovery": ([0, 0.02, 0.08, 0.25, 0.55, 0.7, 0.74, N, N, N, N, N],
                         [0, 0.02, 0.08, 0.27, 0.55, 0.7, 0.74, 0.75, 0.76, 0.76, N, N]),
            "Death": ([0, 0.05, 0.12, 0.2, 0.24, 0.25, 0.26, N, N, N, N, N],
                      [0, 0.05, 0.12, 0.2, 0.24, 0.25, 0.25, 0.25, 0.25, 0.25, N, N])},
    "May+": {"ICU": ([1.0, 0.9, 0.8, 0.6, 0.34, N, N, N, N, N, N, N],
                     [1.0, 0.85, 0.7, 0.5, 0.3, 0.12, 0.05, 0.02, 0.0, 0.0, N, N]),
             "Recovery": ([0, 0, 0.02, 0.15, 0.33, N, N, N, N, N, N, N],
                          [0, 0.02, 0.08, 0.25, 0.48, 0.65, 0.73, 0.76, 0.77, 0.77, N, N]),
             "Death": ([0, 0, 0, 0.33, 0.33, N, N, N, N, N, N, N],
                       [0, 0.05, 0.1, 0.16, 0.2, 0.21, 0.21, 0.21, 0.21, 0.21, N, N])},
}

icu_m_old = {
    "Feb": {"ICU": ([1.0, 0.8, 0.55, 0.33, 0.22, 0.13, 0.07, 0.03, N, N, N, N],
                    [1.0, 0.82, 0.6, 0.38, 0.25, 0.14, 0.08, 0.04, 0.02, 0.01, N, N]),
            "Recovery": ([0, 0, 0.01, 0.03, 0.06, 0.12, 0.17, 0.22, N, N, N, N],
                         [0, 0.01, 0.02, 0.05, 0.09, 0.15, 0.21, 0.26, 0.29, N, N, N]),
            "Death": ([0, 0.5, 0.7, 0.76, 0.77, 0.78, 0.78, 0.78, N, N, N, N],
                      [0, 0.45, 0.62, 0.7, 0.72, 0.72, 0.72, 0.72, 0.72, N, N, N])},
    "Mar": {"ICU": ([1.0, 0.85, 0.7, 0.5, 0.33, 0.18, 0.08, 0.03, 0.01, N, N, N],
                    [1.0, 0.84, 0.68, 0.48, 0.32, 0.17, 0.08, 0.03, 0.01, 0.0, N, N]),
            "Recovery": ([0, 0.01, 0.02, 0.05, 0.1, 0.17, 0.24, 0.28, 0.31, N, N, N],
                         [0, 0.01, 0.02, 0.05, 0.1, 0.17, 0.24, 0.28, 0.31, 0.33, N, N]),
            "Death": ([0, 0.15, 0.3, 0.48, 0.6, 0.66, 0.68, 0.68, 0.68, N, N, N],
                      [0, 0.13, 0.27, 0.45, 0.58, 0.64, 0.66, 0.66, 0.66, 0.66, N, N])},
    "Apr": {"ICU": ([1.0, 0.88, 0.78, 0.62, 0.48, 0.3, 0.15, 0.04, N, N, N, N],
                    [1.0, 0.8, 0.65, 0.48, 0.3, 0.12, 0.05, 0.02, 0.01, N, N, N]),
            "Recovery": ([0, 0.01, 0.04, 0.1, 0.17, 0.25, 0.38, 0.5, N, N, N, N],
                         [0, 0.01, 0.04, 0.1, 0.2, 0.32, 0.39, 0.42, 0.43, 0.43, N, N]),
            "Death": ([0, 0.1, 0.25, 0.42, 0.5, 0.5, 0.5, 0.5, N, N, N, N],
                      [0, 0.08, 0.2, 0.38, 0.5, 0.55, 0.57, 0.57, 0.57, 0.57, N, N])},
    "May+": {"ICU": ([1.0, 0.3, 0.25, 0.25, 0.25, 0.25, N, N, N, N, N, N],
                     [1.0, 0.85, 0.72, 0.55, 0.38, 0.2, 0.1, 0.04, 0.01, 0.0, N, N]),
             "Recovery": ([0, 0.5, 0.5, 0.5, 0.5, 0.5, N, N, N, N, N, N],
                          [0, 0.02, 0.06, 0.15, 0.25, 0.37, 0.43, 0.46, 0.47, 0.47, N, N]),
             "Death": ([0, 0.25, 0.25, 0.25, 0.25, 0.25, N, N, N, N, N, N],
                       [0, 0.15, 0.3, 0.43, 0.5, 0.52, 0.53, 0.53, 0.53, 0.53, N, N])},
}

curves = {
    "Onset": [onset_f_young, onset_f_old, onset_m_young, onset_m_old],
    "Admission": [adm_f_young, adm_f_old, adm_m_young, adm_m_old],
    "ICU": [icu_f_young, icu_f_old, icu_m_young, icu_m_old],
}


def as_series(vals):
    return np.array([np.nan if v is None else v for v in vals], dtype=float)


W, H = 1086, 744
fig = plt.figure(figsize=(W / 100, H / 100), dpi=100)


def box(x, y, w, h):
    # pixel box measured from top-left
    return fig.add_axes([x / W, 1 - (y + h) / H, w / W, h / H])


def strip(x, y, w, h, label, rotation=0):
    s = box(x, y, w, h)
    s.set_xticks([])
    s.set_yticks([])
    s.set_facecolor("#D9D9D9")
    for sp in s.spines.values():
        sp.set_color("#333333")
        sp.set_linewidth(0.9)
    s.text(0.5, 0.5, label, transform=s.transAxes, ha="center", va="center",
           fontsize=13.2, color="#1A1A1A", rotation=rotation, clip_on=True)


PW, PH = 63.5, 116.5
col_x = [94 + 76.5 * i for i in range(12)]
row_y = [124.5 + 127.6 * j for j in range(4)]
color_of = dict(zip(events, event_colors))

for c in range(12):
    state = start_states[c // 4]
    month = months[c % 4]
    strip(col_x[c], 52, PW, 35.5, state)
    strip(col_x[c], 87.5, PW, 35.5, month)

for r in range(4):
    strip(1000, row_y[r], 36, PH, age_groups[r], rotation=-90)
    strip(1036.5, row_y[r], 36, PH, sexes[r], rotation=-90)
    for c in range(12):
        state = start_states[c // 4]
        month = months[c % 4]
        ax = box(col_x[c], row_y[r], PW, PH)
        ax.set_xlim(-7.5, 157.5)
        ax.set_ylim(-0.05, 1.05)
        ax.set_xticks(x_ticks)
        ax.set_xticks([25, 75, 125], minor=True)
        ax.set_yticks(y_ticks)
        ax.set_yticks([0.125, 0.375, 0.625, 0.875], minor=True)
        ax.grid(which="major", color="#EBEBEB", lw=1.1)
        ax.grid(which="minor", color="#EBEBEB", lw=0.6)
        ax.set_axisbelow(True)
        for sp in ax.spines.values():
            sp.set_color("#333333")
            sp.set_linewidth(0.9)
        ax.tick_params(which="major", length=3, width=0.8, color="#333333",
                       labelsize=12.8, labelcolor="#4D4D4D", pad=2)
        ax.tick_params(which="minor", length=0)
        if c == 0:
            ax.set_yticklabels(y_ticklabels)
        else:
            ax.tick_params(axis="y", left=False, labelleft=False)
        if r == 3:
            ax.set_xticklabels([str(t) for t in x_ticks])
        else:
            ax.tick_params(axis="x", bottom=False, labelbottom=False)

        panel = curves[state][r][month]
        for ev in events:
            if ev not in panel:
                continue
            aj, pm = panel[ev]
            ax.plot(days, as_series(aj), color=color_of[ev], lw=1.35)
            ax.plot(days, as_series(pm), color=color_of[ev], lw=1.35, ls=(0, (3, 2.2)))

fig.text(95 / W, 1 - 22 / H,
         "Parametric vs non-parametric cumulative incidence, by starting state",
         fontsize=17.3, ha="left", va="center", color="#000000")
fig.text(22 / W, 1 - 373 / H, "Probability of next event", rotation=90,
         fontsize=16.8, ha="center", va="center")
fig.text(546 / W, 1 - 667 / H, "Days", fontsize=16.8, ha="center", va="center")

# legend along the bottom (runs past the edges, as in the original)
ly = 1 - 734 / H
fig.text(13 / W, ly, "Aalen-Johansen", fontsize=13.5, va="center")
fig.add_artist(Line2D([178 / W, 210 / W], [ly, ly], transform=fig.transFigure,
                      color="#333333", lw=1.2, ls=(0, (2.2, 2.2))))
fig.text(221 / W, ly, "Parametric mixture", fontsize=13.5, va="center")
fig.text(450 / W, ly, "Next event", fontsize=16.8, va="center")
key_x = [598, 710, 868, 967]
for kx, ev in zip(key_x, legend_events):
    fig.add_artist(Line2D([kx / W, (kx + 34) / W], [ly, ly], transform=fig.transFigure,
                          color=color_of[ev], lw=1.6))
    fig.text((kx + 42) / W, ly, ev, fontsize=13.5, va="center")

fig.savefig("out.png", dpi=100)
